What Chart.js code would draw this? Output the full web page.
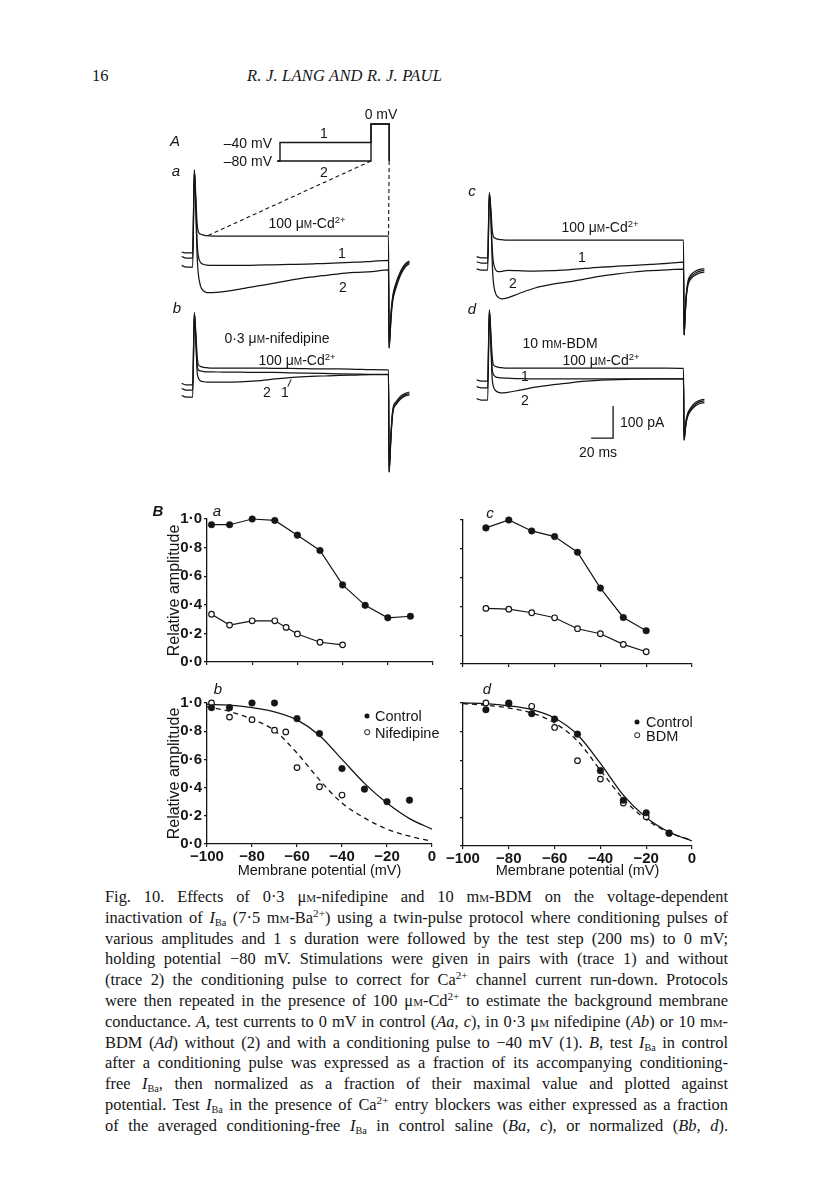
<!DOCTYPE html>
<html>
<head>
<meta charset="utf-8">
<script src="https://cdn.jsdelivr.net/npm/chart.js@4.4.1/dist/chart.umd.min.js"></script>
<style>
  body { margin: 0; background: #fff; }
  #page { position: relative; width: 816px; height: 1181px; overflow: hidden; background: #fff; color: #151515; }
  canvas { position: absolute; }
  .t { position: absolute; white-space: nowrap; font-family: "Liberation Sans", Arial, sans-serif; font-size: 14px; line-height: 1; transform: translate(-50%, -50%); z-index: 2; }
  .t.l { transform: translate(0, -50%); }
  .t.r { transform: translate(-100%, -50%); }
  .it { font-style: italic; }
  .big { font-size: 15px; }
  .sc { font-variant: small-caps; }
  sup { font-size: 68%; line-height: 0; vertical-align: 0.5em; }
  sub { font-size: 62%; line-height: 0; vertical-align: -0.25em; }
  .dot { position: absolute; width: 5px; height: 5px; border-radius: 50%; background: #151515; transform: translate(-50%, -50%); }
  .dot.o { background: #fff; border: 1.2px solid #151515; width: 3.6px; height: 3.6px; }
  .head { position: absolute; top: 66px; font-family: "Liberation Serif", "Times New Roman", serif; font-size: 16.5px; }
  #cap { position: absolute; left: 105px; top: 887px; width: 623px; font-family: "Liberation Serif", "Times New Roman", serif; font-size: 16.4px; }
  #cap div { height: 20.8px; line-height: 20.8px; text-align: justify; text-align-last: justify; white-space: nowrap; }
</style>
</head>
<body>
<div id="page">
  <div class="head" style="left:92px">16</div>
  <div class="head" style="left:247px;font-style:italic;letter-spacing:0.2px">R. J. LANG AND R. J. PAUL</div>

  <!-- panel A labels -->
  <div class="t it big" style="left:175px;top:140px">A</div>
  <div class="t it big" style="left:176px;top:170px">a</div>
  <div class="t it big" style="left:177px;top:307px">b</div>
  <div class="t it big" style="left:472px;top:190px">c</div>
  <div class="t it big" style="left:472px;top:308px">d</div>
  <div class="t r" style="left:272px;top:143px">–40 mV</div>
  <div class="t r" style="left:272px;top:161px">–80 mV</div>
  <div class="t" style="left:324px;top:133px">1</div>
  <div class="t" style="left:324px;top:172px">2</div>
  <div class="t" style="left:381px;top:114px">0 mV</div>
  <div class="t" style="left:307px;top:223px">100 μ<span class="sc">m</span>-Cd<sup>2+</sup></div>
  <div class="t" style="left:342px;top:253px">1</div>
  <div class="t" style="left:343px;top:287px">2</div>
  <div class="t" style="left:277px;top:338px">0·3 μ<span class="sc">m</span>-nifedipine</div>
  <div class="t" style="left:297px;top:360px">100 μ<span class="sc">m</span>-Cd<sup>2+</sup></div>
  <div class="t" style="left:267px;top:392px">2</div>
  <div class="t" style="left:285px;top:392px">1</div>
  <div style="position:absolute;left:289px;top:379px;width:1px;height:8px;background:#151515;transform:rotate(25deg)"></div>
  <div class="t" style="left:600px;top:227px">100 μ<span class="sc">m</span>-Cd<sup>2+</sup></div>
  <div class="t" style="left:582px;top:257px">1</div>
  <div class="t" style="left:513px;top:283px">2</div>
  <div class="t" style="left:560px;top:343px">10 m<span class="sc">m</span>-BDM</div>
  <div class="t" style="left:601px;top:360px">100 μ<span class="sc">m</span>-Cd<sup>2+</sup></div>
  <div class="t" style="left:525px;top:376px">1</div>
  <div class="t" style="left:525px;top:400px">2</div>
  <div class="t l" style="left:620px;top:422px">100 pA</div>
  <div class="t" style="left:598px;top:452px">20 ms</div>

  <!-- panel B labels and legends -->
  <div class="t it big" style="left:158px;top:510px;font-weight:bold">B</div>
  <div class="t it big" style="left:217px;top:510px">a</div>
  <div class="t it big" style="left:490px;top:512px">c</div>
  <div class="t it big" style="left:218px;top:688px">b</div>
  <div class="t it big" style="left:487px;top:688px">d</div>
  <div class="dot" style="left:367px;top:716px"></div>
  <div class="t l" style="left:375px;top:716px;font-size:14.5px">Control</div>
  <div class="dot o" style="left:367px;top:732px"></div>
  <div class="t l" style="left:375px;top:733px;font-size:14.5px">Nifedipine</div>
  <div class="dot" style="left:637px;top:722px"></div>
  <div class="t l" style="left:646px;top:722px;font-size:14.5px">Control</div>
  <div class="dot o" style="left:637px;top:735px"></div>
  <div class="t l" style="left:646px;top:736px;font-size:14.5px">BDM</div>

  <div id="cap">
    <div>Fig. 10. Effects of 0·3 μ<span class="sc">m</span>-nifedipine and 10 m<span class="sc">m</span>-BDM on the voltage-dependent</div>
    <div>inactivation of <i>I</i><sub>Ba</sub> (7·5 m<span class="sc">m</span>-Ba<sup>2+</sup>) using a twin-pulse protocol where conditioning pulses of</div>
    <div>various amplitudes and 1 s duration were followed by the test step (200 ms) to 0 mV;</div>
    <div>holding potential −80 mV. Stimulations were given in pairs with (trace 1) and without</div>
    <div>(trace 2) the conditioning pulse to correct for Ca<sup>2+</sup> channel current run-down. Protocols</div>
    <div>were then repeated in the presence of 100 μ<span class="sc">m</span>-Cd<sup>2+</sup> to estimate the background membrane</div>
    <div>conductance. <i>A</i>, test currents to 0 mV in control (<i>Aa, c</i>), in 0·3 μ<span class="sc">m</span> nifedipine (<i>Ab</i>) or 10 m<span class="sc">m</span>-</div>
    <div>BDM (<i>Ad</i>) without (2) and with a conditioning pulse to −40 mV (1). <i>B</i>, test <i>I</i><sub>Ba</sub> in control</div>
    <div>after a conditioning pulse was expressed as a fraction of its accompanying conditioning-</div>
    <div>free <i>I</i><sub>Ba</sub>, then normalized as a fraction of their maximal value and plotted against</div>
    <div>potential. Test <i>I</i><sub>Ba</sub> in the presence of Ca<sup>2+</sup> entry blockers was either expressed as a fraction</div>
    <div>of the averaged conditioning-free <i>I</i><sub>Ba</sub> in control saline (<i>Ba, c</i>), or normalized (<i>Bb, d</i>).</div>
  </div>
</div>

<script>
const INK = '#151515';

// ---------- panel B data (membrane potential, mV / relative amplitude) ----------
const vA = [-98, -90, -80, -70, -60, -50, -40, -30, -20, -10];
const ctrlA = [0.96, 0.96, 1.0, 0.99, 0.887, 0.78, 0.539, 0.396, 0.309, 0.32];
const vNifA = [-98, -90, -80, -70, -65, -60, -50, -40];
const nifA = [0.334, 0.258, 0.288, 0.288, 0.242, 0.196, 0.138, 0.12];

const vC = [-90, -80, -70, -60, -50, -40, -30, -20];
const ctrlC = [0.945, 1.0, 0.924, 0.885, 0.776, 0.527, 0.323, 0.231];
const bdmC = [0.386, 0.381, 0.356, 0.321, 0.245, 0.21, 0.136, 0.085];

const vB = [-98, -90, -80, -70, -60, -50, -40, -30, -20, -10];
const ctrlB = [0.967, 0.967, 1.0, 1.0, 0.889, 0.783, 0.535, 0.389, 0.30, 0.311];
const vNifB = [-98, -90, -80, -70, -65, -60, -50, -40];
const nifB = [1.0, 0.90, 0.882, 0.807, 0.795, 0.542, 0.406, 0.347];

const vD = [-90, -80, -70, -60, -50, -40, -30, -20, -10];
const ctrlD = [0.953, 1.0, 0.925, 0.888, 0.782, 0.527, 0.32, 0.232, 0.09];
const bdmD = [1.0, 0.995, 0.977, 0.829, 0.597, 0.468, 0.30, 0.204, 0.09];

// fitted curves
const fitV = [-100, -90, -80, -70, -60, -50, -40, -30, -20, -10, 0];
const fitCtrlB = [0.99, 0.985, 0.967, 0.937, 0.88, 0.77, 0.60, 0.43, 0.29, 0.18, 0.106];
const fitNifB = [0.975, 0.94, 0.885, 0.805, 0.645, 0.455, 0.29, 0.185, 0.105, 0.055, 0.02];
const fitCtrlD = [1.0, 0.995, 0.98, 0.953, 0.895, 0.778, 0.578, 0.356, 0.2, 0.098, 0.035];
const fitBdmD = [0.995, 0.985, 0.965, 0.93, 0.86, 0.735, 0.53, 0.33, 0.185, 0.095, 0.04];

const yTicks = [0, 0.2, 0.4, 0.6, 0.8, 1.0];
const xTicks = [-100, -80, -60, -40, -20, 0];

// ---------- panel A data (time, ms / current, pA) ----------
const T_PRE = [-13, -9, -5, -3];
const T_PULSE = [-1.5, 0, 1, 2, 4, 7, 10, 15, 25, 40, 55, 70, 85, 100, 115, 130, 145, 160, 175];
const T_TAIL = [175.5, 176.5, 177.5, 179, 182, 186, 190, 194];

// Aa control
const aaPreCd = [-50, -53, -53, -53];
const aaPre1 = [-64, -69, -69, -69];
const aaPre2 = [-92, -97, -97, -97];
const aaCd = [206, 110, 40, 15, 6, 3, 1, 0, 0, 0, 0, 0, 0, 0, 0, 0, 0, 0, 0];
const aa1 = [206, 80, -20, -60, -82, -89, -91, -92, -92, -92, -91, -90, -89, -88, -86, -84, -82, -79, -76];
const aa2 = [206, 60, -60, -115, -155, -172, -177, -177, -174, -166, -157, -148, -139, -130, -124, -118, -114, -111, -106];
const aaTailCd = [-345, -290, -230, -185, -145, -110, -88, -78];
const aaTail1 = [-350, -300, -240, -192, -152, -116, -93, -82];
const aaTail2 = [-350, -305, -248, -200, -160, -122, -98, -86];

// Ab nifedipine
const abPreCd = [-48, -53, -53, -53];
const abPre1 = [-64, -69, -69, -69];
const abPre2 = [-86, -91, -91, -91];
const abCd = [172, 100, 40, 12, 5, 2, 1, 0, 0, 0, 0, -1, -1, -2, -3, -3, -4, -5, -6];
const ab1 = [172, 80, 10, -5, -9, -11, -12, -12, -13, -13, -14, -14, -15, -16, -17, -18, -19, -20, -20];
const ab2 = [172, 70, -10, -30, -40, -43, -44, -44, -44, -43, -40, -35, -30, -27, -25, -23, -22, -21, -21];
const abTailCd = [-322, -260, -190, -128, -105, -88, -80, -75];
const abTail1 = [-325, -265, -196, -134, -110, -93, -84, -80];
const abTail2 = [-325, -268, -200, -138, -114, -97, -88, -84];

// Ac control
const acPreCd = [-52, -56, -56, -56];
const acPre1 = [-68, -72, -72, -72];
const acPre2 = [-90, -94, -94, -94];
const acCd = [147, 90, 35, 12, 5, 2, 1, 0, 0, 0, 0, 0, 0, 0, 0, 0, 0, 0, 0];
const ac1 = [147, 70, -20, -65, -92, -99, -98, -95, -96, -97, -96, -93, -89, -85, -82, -79, -76, -73, -69];
const ac2 = [147, 60, -60, -125, -165, -180, -184, -181, -168, -150, -139, -131, -122, -113, -106, -100, -96, -93, -91];
const acTailCd = [-295, -230, -170, -130, -108, -97, -92, -90];
const acTail1 = [-297, -235, -175, -136, -114, -103, -97, -95];
const acTail2 = [-297, -238, -180, -142, -120, -109, -103, -100];

// Ad BDM
const adPreCd = [-37, -41, -41, -41];
const adPre1 = [-58, -62, -62, -62];
const adPre2 = [-96, -100, -100, -100];
const adCd = [181, 100, 40, 12, 5, 2, 1, 0, 0, 0, 0, 0, 0, 0, 0, 0, 0, 0, -1];
const ad1 = [181, 80, 0, -18, -27, -30, -31, -32, -33, -34, -34, -34, -34, -34, -34, -34, -34, -34, -34];
const ad2 = [181, 60, -30, -55, -70, -76, -78, -76, -70, -60, -53, -47, -41, -38, -36, -35, -34, -34, -34];
const adTailCd = [-222, -190, -160, -140, -122, -108, -101, -98];
const adTail1 = [-225, -195, -165, -145, -127, -113, -106, -103];
const adTail2 = [-225, -198, -170, -150, -132, -118, -111, -108];

// scale bar: 20 ms, 100 pA
const SCALE_MS = 20, SCALE_PA = 100, SCALE_AT = [91, -219];

// voltage protocol (s / mV)
const protoT1 = [-0.03, 0, 0, 1, 1, 1.2, 1.2];
const protoV1 = [-80, -80, -40, -40, 0, 0, -80];
const protoT2 = [-0.03, 1, 1, 1.2, 1.2];
const protoV2 = [-80, -80, 0, 0, -80];
// dashed guides: protocol point (s, mV) -> trace point (ms, pA)
const CONNECTORS = [{ from: [1.0, -80], to: [10, 0] }, { from: [1.2, -80], to: [175, 0] }];

// ---------- helpers ----------
Chart.defaults.font.family = '"Liberation Sans", Arial, sans-serif';
Chart.defaults.color = INK;

function pts(xs, ys) { return xs.map((x, i) => ({ x: x, y: ys[i] })); }

function makeCanvas(box) {
  const c = document.createElement('canvas');
  c.width = box.w; c.height = box.h;
  c.style.left = box.left + 'px'; c.style.top = box.top + 'px';
  document.getElementById('page').appendChild(c);
  return c;
}

const PX_MS = 1.1, PX_PA = 0.32;

function traceSet(pre, pulse, tail) {
  const d = pts(T_PRE, pre).concat(pts(T_PULSE, pulse), pts(T_TAIL, tail));
  return { data: d, borderColor: INK, borderWidth: 1.25, pointRadius: 0, cubicInterpolationMode: 'monotone', clip: false };
}

function hidden(min, max) { return { type: 'linear', display: false, min: min, max: max }; }

function traceChart(box, x0, yRef, datasets, extraScales, plugins) {
  const scales = {
    x: hidden((box.left - x0) / PX_MS, (box.left + box.w - x0) / PX_MS),
    y: hidden((yRef - box.top - box.h) / PX_PA, (yRef - box.top) / PX_PA)
  };
  Object.assign(scales, extraScales || {});
  return new Chart(makeCanvas(box), {
    type: 'line',
    data: { datasets: datasets },
    options: {
      responsive: false, animation: false, devicePixelRatio: 1,
      layout: { padding: 0 },
      plugins: { legend: { display: false }, tooltip: { enabled: false } },
      scales: scales
    },
    plugins: plugins || []
  });
}

const connectorPlugin = {
  id: 'connectors',
  afterDatasetsDraw(chart) {
    const { ctx, scales } = chart;
    ctx.save();
    ctx.setLineDash([4, 3]);
    ctx.lineWidth = 1.1;
    ctx.strokeStyle = INK;
    CONNECTORS.forEach(c => {
      ctx.beginPath();
      ctx.moveTo(scales.xp.getPixelForValue(c.from[0]), scales.yp.getPixelForValue(c.from[1]));
      ctx.lineTo(scales.x.getPixelForValue(c.to[0]), scales.y.getPixelForValue(c.to[1]));
      ctx.stroke();
    });
    ctx.restore();
  }
};

// ---------- panel A ----------
const boxAa = { left: 165, top: 95, w: 260, h: 280 };
const protoStyle = { borderColor: INK, borderWidth: 1.4, pointRadius: 0, xAxisID: 'xp', yAxisID: 'yp', clip: false };
traceChart(boxAa, 196, 236, [
  traceSet(aaPreCd, aaCd, aaTailCd),
  traceSet(aaPre1, aa1, aaTail1),
  traceSet(aaPre2, aa2, aaTail2),
  Object.assign({ data: pts(protoT1, protoV1) }, protoStyle),
  Object.assign({ data: pts(protoT2, protoV2) }, protoStyle)
], {
  xp: hidden((boxAa.left - 280) / 91, (boxAa.left + boxAa.w - 280) / 91),
  yp: hidden((124 - boxAa.top - boxAa.h) / 0.4625, (124 - boxAa.top) / 0.4625)
}, [connectorPlugin]);

traceChart({ left: 165, top: 300, w: 260, h: 185 }, 196, 368, [
  traceSet(abPreCd, abCd, abTailCd),
  traceSet(abPre1, ab1, abTail1),
  traceSet(abPre2, ab2, abTail2)
]);

traceChart({ left: 455, top: 180, w: 265, h: 180 }, 491, 240, [
  traceSet(acPreCd, acCd, acTailCd),
  traceSet(acPre1, ac1, acTail1),
  traceSet(acPre2, ac2, acTail2)
]);

traceChart({ left: 455, top: 300, w: 265, h: 165 }, 491, 368, [
  traceSet(adPreCd, adCd, adTailCd),
  traceSet(adPre1, ad1, adTail1),
  traceSet(adPre2, ad2, adTail2),
  { data: [{ x: SCALE_AT[0], y: SCALE_AT[1] }, { x: SCALE_AT[0] + SCALE_MS, y: SCALE_AT[1] }, { x: SCALE_AT[0] + SCALE_MS, y: SCALE_AT[1] + SCALE_PA }],
    borderColor: INK, borderWidth: 1.3, pointRadius: 0, clip: false }
]);

// ---------- panel B ----------
function fmtDot(v) { return v.toFixed(1).replace('.', '·'); }

function bChart(box, o, datasets) {
  return new Chart(makeCanvas(box), {
    type: 'line',
    data: { datasets: datasets },
    options: {
      responsive: false, animation: false, devicePixelRatio: 1,
      layout: { padding: { left: 0, top: o.pt, right: o.pr, bottom: 0 } },
      plugins: { legend: { display: false }, tooltip: { enabled: false } },
      scales: {
        x: {
          type: 'linear', min: -100, max: 0,
          afterFit: s => { s.height = o.xh; },
          afterBuildTicks: s => { s.ticks = xTicks.map(v => ({ value: v })); },
          ticks: { display: o.xLabels, padding: 1, color: INK, font: { size: 15, weight: 'bold' },
                   callback: v => v === 0 ? '0' : '\u2212' + Math.abs(v) },
          grid: { display: true, drawOnChartArea: false, drawTicks: true, tickLength: 3, color: INK, lineWidth: 1.2 },
          border: { display: true, color: INK, width: 1.3 },
          title: { display: o.xLabels, text: 'Membrane potential (mV)', color: INK, font: { size: 14.5 }, padding: { top: 0, bottom: 0 } }
        },
        y: {
          type: 'linear', min: 0, max: 1,
          afterFit: s => { s.width = o.yw; },
          afterBuildTicks: s => { s.ticks = yTicks.map(v => ({ value: v })); },
          ticks: { display: o.yLabels, padding: 2, color: INK, font: { size: 15, weight: 'bold' }, callback: v => fmtDot(v) },
          grid: { display: true, drawOnChartArea: false, drawTicks: true, tickLength: 3, color: INK, lineWidth: 1.2 },
          border: { display: true, color: INK, width: 1.3 },
          title: { display: o.yLabels, text: 'Relative amplitude', color: INK, font: { size: 16 }, padding: { top: 15, bottom: 0 } }
        }
      }
    }
  });
}

function filled(xs, ys, line) {
  return { data: pts(xs, ys), showLine: line, borderColor: INK, borderWidth: 1.2, pointRadius: 3.3,
           pointBackgroundColor: INK, pointBorderColor: INK, pointBorderWidth: 0.5, clip: false };
}
function open(xs, ys, line) {
  return { data: pts(xs, ys), showLine: line, borderColor: INK, borderWidth: 1.2, pointRadius: 2.8,
           pointBackgroundColor: '#fff', pointBorderColor: INK, pointBorderWidth: 1.2, clip: false };
}
function fit(ys, dash) {
  return { data: pts(fitV, ys), borderColor: INK, borderWidth: 1.3, borderDash: dash ? [5, 4] : [],
           pointRadius: 0, cubicInterpolationMode: 'monotone', clip: false };
}

bChart({ left: 150, top: 505, w: 300, h: 168 }, { pt: 14, pr: 17, xh: 9, yw: 57, xLabels: false, yLabels: true },
  [filled(vA, ctrlA, true), open(vNifA, nifA, true)]);

bChart({ left: 440, top: 505, w: 280, h: 168 }, { pt: 15, pr: 28, xh: 9, yw: 23, xLabels: false, yLabels: false },
  [filled(vC, ctrlC, true), open(vC, bdmC, true)]);

bChart({ left: 150, top: 685, w: 300, h: 195 }, { pt: 18, pr: 18, xh: 36, yw: 57, xLabels: true, yLabels: true },
  [filled(vB, ctrlB, false), open(vNifB, nifB, false), fit(fitCtrlB, false), fit(fitNifB, true)]);

bChart({ left: 440, top: 685, w: 280, h: 195 }, { pt: 18, pr: 28, xh: 34, yw: 23, xLabels: true, yLabels: false },
  [filled(vD, ctrlD, false), open(vD, bdmD, false), fit(fitCtrlD, false), fit(fitBdmD, true)]);
</script>
</body>
</html>
